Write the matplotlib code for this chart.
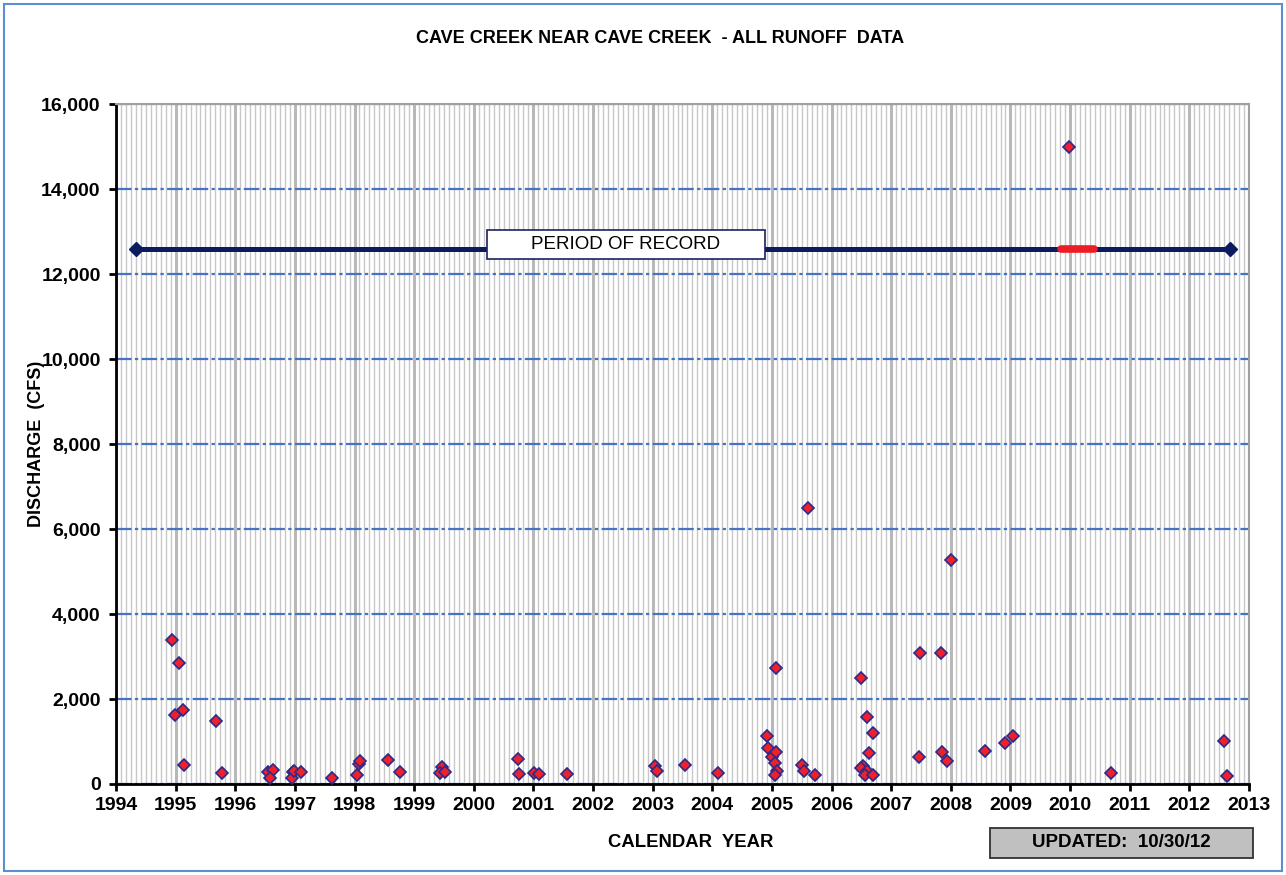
import matplotlib
matplotlib.use('Agg')
import matplotlib.pyplot as plt
from matplotlib.patches import Rectangle
from matplotlib.ticker import MultipleLocator, FuncFormatter

plt.rcParams['font.family'] = ['Liberation Sans', 'DejaVu Sans']

# runoff events: decimal year, peak discharge (cfs)
year = [1994.94, 1995.06, 1994.99, 1995.12, 1995.14, 1995.67, 1995.77,
        1996.55, 1996.63, 1996.59, 1996.96, 1996.95, 1996.99, 1997.10,
        1997.63, 1998.04, 1998.07, 1998.09, 1998.56, 1998.76,
        1999.46, 1999.43, 1999.52, 2000.75, 2000.76, 2001.01, 2001.10, 2001.56,
        2003.04, 2003.07, 2003.54, 2004.10,
        2004.91, 2004.93, 2005.00, 2005.06, 2005.05, 2005.09, 2005.05, 2005.06,
        2005.50, 2005.54, 2005.73, 2005.60,
        2006.49, 2006.60, 2006.70, 2006.62, 2006.52, 2006.49, 2006.59, 2006.56, 2006.70,
        2007.48, 2007.47, 2007.83, 2007.85, 2007.93, 2008.00,
        2008.57, 2008.91, 2009.04, 2009.99, 2010.69, 2012.58, 2012.63]
discharge = [3380, 2840, 1620, 1730, 455, 1490, 250,
             290, 330, 135, 280, 135, 315, 280,
             150, 215, 480, 530, 555, 280,
             400, 250, 290, 590, 225, 250, 225, 225,
             425, 305, 445, 255,
             1130, 850, 645, 760, 500, 315, 210, 2740,
             455, 315, 210, 6500,
             2500, 1570, 1190, 720, 430, 370, 315, 210, 210,
             3075, 630, 3075, 760, 550, 5260,
             785, 955, 1130, 15000, 250, 1020, 190]

# period of record bar and the year with the largest flood
record_start, record_end = 1994.34, 2012.68
record_level = 12600
peak_span = (2009.84, 2010.40)
label_box = (2000.22, 12350, 4.66, 680)   # x, y, width, height

fig = plt.figure(figsize=(12.86, 8.75), dpi=100)
fig.patches.append(Rectangle((0.003, 0.005), 0.994, 0.99, transform=fig.transFigure,
                             fill=False, edgecolor='#5b8fd0', lw=1.5))
ax = fig.add_axes([0.0902, 0.104, 0.881, 0.777])

ax.set_xlim(1994, 2013)
ax.set_ylim(0, 16000)
ax.xaxis.set_major_locator(MultipleLocator(1))
ax.xaxis.set_minor_locator(MultipleLocator(1 / 12))
ax.yaxis.set_major_locator(MultipleLocator(2000))
ax.yaxis.set_major_formatter(FuncFormatter(lambda v, p: '{:,.0f}'.format(v)))

ax.grid(True, which='minor', axis='x', color='#c8c8c8', lw=1.0)
ax.grid(True, which='major', axis='x', color='#b8b8b8', lw=2.2)
ax.grid(True, which='major', axis='y', color='#4472c4', lw=1.6, ls=(0, (7, 1.5, 1.5, 1.5)))
ax.set_axisbelow(True)

for s in ['top', 'right']:
    ax.spines[s].set_color('#a0a0a0')
    ax.spines[s].set_linewidth(1.5)
for s in ['left', 'bottom']:
    ax.spines[s].set_color('black')
    ax.spines[s].set_linewidth(2)
ax.tick_params(which='major', direction='out', length=5, width=2, color='black',
               labelsize=14, pad=4)
ax.tick_params(axis='y', pad=6)
ax.tick_params(which='minor', length=0)
for lab in ax.get_xticklabels() + ax.get_yticklabels():
    lab.set_fontweight('bold')

# period of record
ax.plot([record_start, record_end], [record_level, record_level], color='#0c1a5e',
        lw=3.6, marker='D', markersize=7, solid_capstyle='butt', zorder=3)
ax.plot(list(peak_span), [record_level, record_level], color='#ee1c25', lw=5.5,
        solid_capstyle='round', zorder=4)
ax.add_patch(Rectangle(label_box[:2], label_box[2], label_box[3], facecolor='white',
                       edgecolor='#1c2060', lw=1.2, zorder=5))
ax.text(label_box[0] + label_box[2] / 2, label_box[1] + label_box[3] / 2, 'PERIOD OF RECORD',
        ha='center', va='center', fontsize=13.5, zorder=6)

ax.plot(year, discharge, ls='none', marker='D', markersize=6.4, markerfacecolor='#f0202a',
        markeredgecolor='#2a2a8a', markeredgewidth=1.2, zorder=7)

fig.text(0.513, 0.956, 'CAVE CREEK NEAR CAVE CREEK  - ALL RUNOFF  DATA', ha='center',
         va='center', fontsize=13, fontweight='bold')
fig.text(0.028, 0.4926, 'DISCHARGE  (CFS)', rotation=90, ha='center', va='center',
         fontsize=13, fontweight='bold')
fig.text(0.537, 0.0366, 'CALENDAR  YEAR', ha='center', va='center', fontsize=13.3,
         fontweight='bold')

# update stamp in the lower right
fig.patches.append(Rectangle((0.7698, 0.0194), 0.2045, 0.0343, transform=fig.transFigure,
                             facecolor='#c0c0c0', edgecolor='#303030', lw=1.3))
fig.text(0.872, 0.0366, 'UPDATED:  10/30/12', ha='center', va='center', fontsize=13.5,
         fontweight='bold')

fig.savefig('out.png', dpi=100)
